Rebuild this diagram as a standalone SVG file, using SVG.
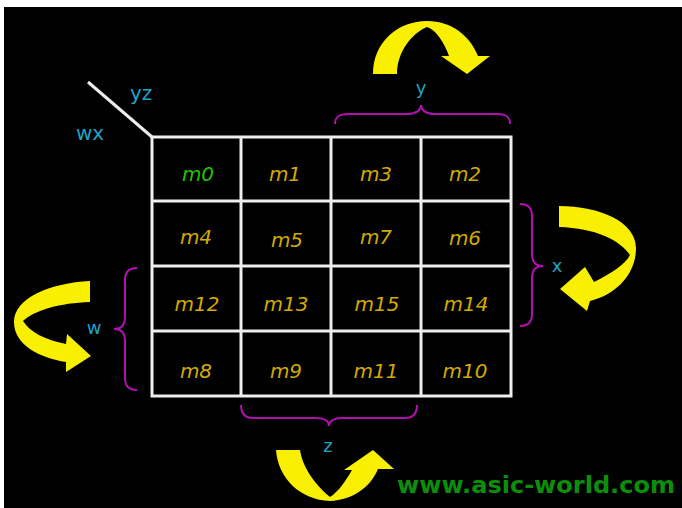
<svg xmlns="http://www.w3.org/2000/svg" width="682" height="508" viewBox="0 0 682 508">
<style>
.grid{fill:none;stroke:#eeeeee;stroke-width:3}
.cell{font-family:"DejaVu Sans",sans-serif;font-style:italic;font-size:20px;fill:#d2aa00;text-anchor:middle}
.var{font-family:"DejaVu Sans",sans-serif;font-size:20px;fill:#1ea3c8}
.var1{font-family:"DejaVu Sans",sans-serif;font-size:18px;fill:#1ea3c8;text-anchor:middle}
.brace{fill:none;stroke:#b010b0;stroke-width:2}
.arrow{fill:#f8f000}
</style>
<rect x="0" y="0" width="682" height="508" fill="#ffffff"/>
<rect x="4" y="7" width="678" height="501" fill="#000000"/>
<g id="kmap-grid">
<line x1="88" y1="82" x2="152" y2="137" class="grid"/>
<rect x="152" y="137" width="359" height="259" class="grid"/>
<line x1="241" y1="137" x2="241" y2="396" class="grid"/>
<line x1="331" y1="137" x2="331" y2="396" class="grid"/>
<line x1="421" y1="137" x2="421" y2="396" class="grid"/>
<line x1="152" y1="201" x2="511" y2="201" class="grid"/>
<line x1="152" y1="266" x2="511" y2="266" class="grid"/>
<line x1="152" y1="331" x2="511" y2="331" class="grid"/>
<text x="130" y="100" class="var">yz</text>
<text x="76" y="140" class="var">wx</text>
</g>
<g id="cells">
<text x="198" y="181" class="cell" style="fill:#22c400">m0</text>
<text x="285" y="181" class="cell">m1</text>
<text x="376" y="181" class="cell">m3</text>
<text x="465" y="181" class="cell">m2</text>
<text x="196" y="244" class="cell">m4</text>
<text x="287" y="247" class="cell">m5</text>
<text x="376" y="244" class="cell">m7</text>
<text x="465" y="245" class="cell">m6</text>
<text x="197" y="311" class="cell">m12</text>
<text x="286" y="311" class="cell">m13</text>
<text x="377" y="311" class="cell">m15</text>
<text x="466" y="311" class="cell">m14</text>
<text x="196" y="378" class="cell">m8</text>
<text x="286" y="378" class="cell">m9</text>
<text x="376" y="378" class="cell">m11</text>
<text x="465" y="378" class="cell">m10</text>
</g>
<g id="group-y">
<path class="brace" d="M335,124 C335,116 340,114 348,114 L408,114 C416,114 421,110 421,105 C421,110 426,114 434,114 L497,114 C505,114 510,116 510,124"/>
<text x="421" y="94" class="var1">y</text>
<path class="arrow" d="M373,74 C373,42 398,21 427,21 C452,21 470,36 478,56 L490,56 L467,74 L441,56 L449,56 C444,42 436,30 427,27 C412,33 397,52 397,74 Z"/>
</g>
<g id="group-x">
<path class="brace" d="M520,204 C528,204 532,208 532,216 L532,254 C532,262 536,266 543,266 C536,266 532,270 532,278 L532,314 C532,322 528,326 520,326"/>
<text x="557" y="272" class="var1">x</text>
<path class="arrow" d="M559,206 C600,206 636,222 636,248 C636,275 615,295 590,301 L587,311 L560,289 L585,267 L594,282 C610,274 625,265 630,255 C620,240 595,228 559,227 Z"/>
</g>
<g id="group-w">
<path class="brace" d="M137,268 C129,268 125,272 125,280 L125,317 C125,325 121,329 114,329 C121,329 125,333 125,341 L125,378 C125,386 129,390 137,390"/>
<text x="94" y="334" class="var1">w</text>
<path class="arrow" d="M90,281 C50,283 14,298 14,322 C14,345 40,358 66,362 L66,372 L91,356 L67,334 L66,344 C45,340 30,332 23,321 C35,310 60,303 90,302 Z"/>
</g>
<g id="group-z">
<path class="brace" d="M241,405 C241,413 245,418 253,418 L316,418 C324,418 329,421 329,426 C329,421 334,418 342,418 L405,418 C413,418 417,413 417,405"/>
<text x="328" y="452" class="var1">z</text>
<path class="arrow" d="M276,450 C278,478 300,500 330,501 C352,500 370,488 378,469 L394,469 L373,450 L344,470 L352,470 C345,482 338,492 330,497 C318,487 303,470 300,450 Z"/>
</g>
<text x="397" y="493" font-family="DejaVu Sans, sans-serif" font-weight="bold" font-size="23" fill="#0b8f0b" textLength="278" lengthAdjust="spacingAndGlyphs">www.asic-world.com</text>
</svg>
